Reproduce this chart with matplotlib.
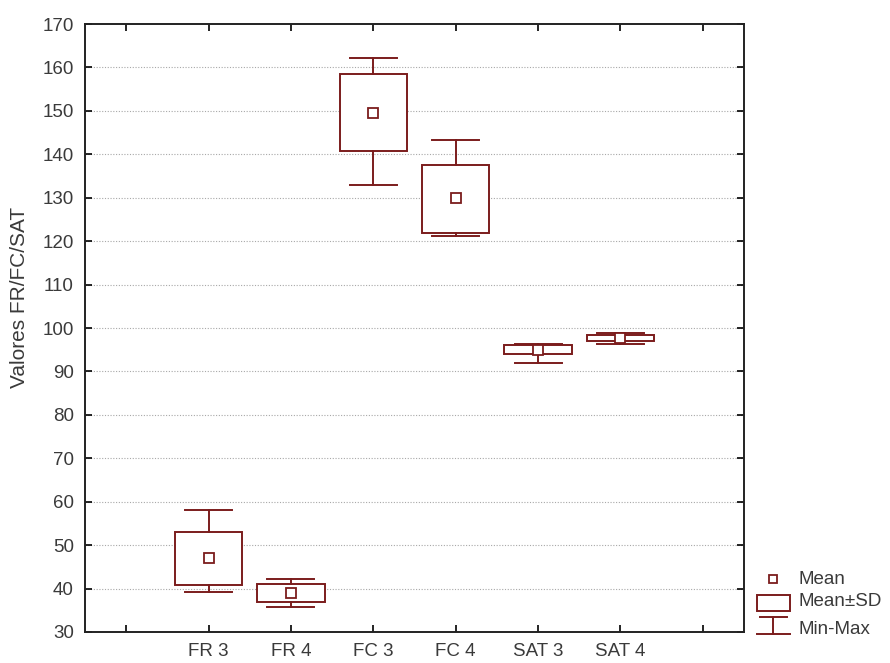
import matplotlib
matplotlib.use('Agg')
import matplotlib.pyplot as plt
from matplotlib.patches import Rectangle
from matplotlib.lines import Line2D

plt.rcParams['font.family'] = ['Liberation Sans', 'DejaVu Sans']

labels = ['FR 3', 'FR 4', 'FC 3', 'FC 4', 'SAT 3', 'SAT 4']
means = [47.0, 39.0, 149.6, 129.9, 95.0, 97.6]
sd_lo = [40.8, 36.8, 140.7, 121.8, 93.9, 96.9]
sd_hi = [53.0, 41.1, 158.6, 137.5, 96.2, 98.3]
mins = [39.1, 35.8, 133.0, 121.1, 92.0, 96.3]
maxs = [58.1, 42.2, 162.1, 143.2, 96.3, 98.9]

col = '#7b1c1c'
txtcol = '#3a3a3a'

fig = plt.figure(figsize=(8.9, 6.63), dpi=100)
ax = fig.add_axes([85/890, 31/663, (744-85)/890, (632-24)/663])

stats = []
for i in range(len(labels)):
    stats.append(dict(med=means[i], mean=means[i], q1=sd_lo[i], q3=sd_hi[i],
                      whislo=mins[i], whishi=maxs[i], fliers=[], label=labels[i]))

pos = list(range(1, len(labels) + 1))
ax.bxp(stats, positions=pos, widths=0.82, capwidths=0.57, showmeans=True,
       patch_artist=True, manage_ticks=False, zorder=3,
       boxprops=dict(facecolor='white', edgecolor=col, linewidth=1.4),
       whiskerprops=dict(color=col, linewidth=1.4),
       capprops=dict(color=col, linewidth=1.4),
       medianprops=dict(visible=False),
       meanprops=dict(marker='s', markerfacecolor='white', markeredgecolor=col,
                      markersize=6.5, markeredgewidth=1.3))

ax.set_xlim(-0.5, 7.5)
ax.set_ylim(30, 170)
ax.set_xticks(range(0, 8))
ax.set_xticklabels([''] + labels + [''])
ax.set_yticks(range(30, 171, 10))
for y in range(40, 170, 10):
    ax.axhline(y, color='#a8a8a8', linestyle=(0, (1, 1.5)), linewidth=0.8, zorder=1)

ax.tick_params(direction='in', top=True, right=True, length=5, width=1.2,
               labelsize=13.5, labelcolor=txtcol, pad=8)
for s in ax.spines.values():
    s.set_linewidth(1.4)
    s.set_color('#222222')
ax.set_ylabel('Valores FR/FC/SAT', fontsize=15, color=txtcol)
ax.yaxis.set_label_coords(-0.085, 0.55)

# legend
W, H = 890, 663
def fx(x): return x / W
def fy(y): return 1 - y / H
tr = fig.transFigure
fig.add_artist(Line2D([fx(773)], [fy(579)], marker='s', markersize=5.5,
                      markerfacecolor='white', markeredgecolor=col, markeredgewidth=1.3,
                      transform=tr))
fig.add_artist(Rectangle((fx(757), fy(611)), fx(790) - fx(757), fy(595) - fy(611),
                         facecolor='white', edgecolor=col, linewidth=1.4, transform=tr))
fig.add_artist(Line2D([fx(760), fx(787)], [fy(617), fy(617)], color=col, linewidth=1.4, transform=tr))
fig.add_artist(Line2D([fx(757), fx(790)], [fy(634), fy(634)], color=col, linewidth=1.4, transform=tr))
fig.add_artist(Line2D([fx(773), fx(773)], [fy(617), fy(634)], color=col, linewidth=1.4, transform=tr))
for t, y in [('Mean', 579), ('Mean±SD', 602), ('Min-Max', 630)]:
    fig.text(fx(799), fy(y), t, fontsize=13.5, color=txtcol, va='center', ha='left')

fig.savefig('out.png', dpi=100)
